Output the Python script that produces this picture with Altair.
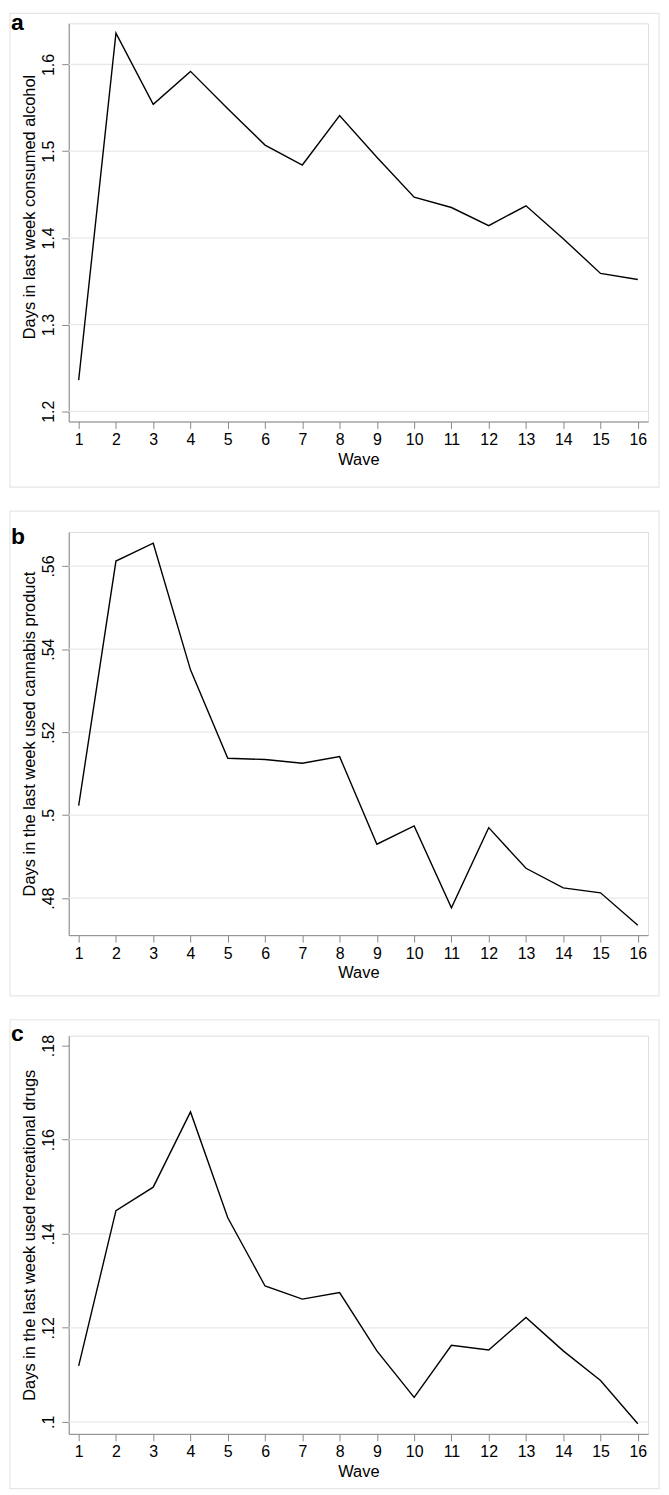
import altair as alt
import pandas as pd

waves = list(range(1, 17))
alcohol = [1.236, 1.636, 1.554, 1.592, 1.549, 1.507, 1.484, 1.541, 1.493, 1.447,
           1.435, 1.414, 1.437, 1.399, 1.359, 1.352]
cannabis = [0.5023, 0.5612, 0.5655, 0.5350, 0.5137, 0.5134, 0.5125, 0.5141, 0.4930,
            0.4974, 0.4777, 0.4970, 0.4872, 0.4825, 0.4813, 0.4735]
drugs = [0.1119, 0.1449, 0.1499, 0.1659, 0.1434, 0.1289, 0.1261, 0.1275, 0.1151,
         0.1052, 0.1163, 0.1153, 0.1222, 0.1151, 0.1088, 0.0996]

ticks_a = [1.2, 1.3, 1.4, 1.5, 1.6]
ticks_b = [0.48, 0.50, 0.52, 0.54, 0.56]
ticks_c = [0.10, 0.12, 0.14, 0.16, 0.18]
grid_a = [1.2, 1.3, 1.4, 1.5, 1.6]
grid_b = [0.48, 0.50, 0.52, 0.54, 0.56]
grid_c = [0.10, 0.12, 0.14, 0.16]

titles = ["Days in last week consumed alcohol",
          "Days in the last week used cannabis product",
          "Days in the last week used recreational drugs"]
letters = ["a", "b", "c"]

FONT = "Liberation Sans"
W = 582
XDOM = [0.733, 16.275]


def panel(values, domain, ticks, grid, title, label_expr, H, letter, letter_y,
          frame_top, frame_bottom, title_y=None):
    df = pd.DataFrame({"wave": waves, "value": values})
    yscale = alt.Scale(domain=domain, nice=False, zero=False)
    xscale = alt.Scale(domain=XDOM, nice=False, zero=False)
    axis_kw = dict(values=ticks, title=title, labelExpr=label_expr, grid=False,
                   labelAngle=270, labelAlign="center", labelBaseline="bottom",
                   labelPadding=5, tickSize=7, titleFontSize=16.5, labelFontSize=16,
                   titleFontWeight="normal", titlePadding=3, titleAngle=270,
                   titleBaseline="bottom")
    if title_y is not None:
        axis_kw["titleY"] = title_y
    yax = alt.Axis(**axis_kw)
    xax = alt.Axis(values=waves, title="Wave", format="d", grid=False, tickSize=7,
                   labelPadding=3, labelFontSize=16, titleFontSize=16.5,
                   titleFontWeight="normal", titlePadding=4, labelAngle=0)

    frame = alt.Chart(pd.DataFrame({"k": [0]})).mark_rect(
        filled=False, stroke="#e6e6e6", strokeWidth=1.2
    ).encode(x=alt.value(-59), x2=alt.value(W + 11),
             y=alt.value(-frame_top), y2=alt.value(H + frame_bottom))

    line = alt.Chart(df).mark_line(color="black", strokeWidth=1.4).encode(
        x=alt.X("wave:Q", scale=xscale, axis=xax),
        y=alt.Y("value:Q", scale=yscale, axis=yax),
    )

    gridl = alt.Chart(pd.DataFrame({"value": grid})).mark_rule(
        color="#e8e8e8", strokeWidth=1.3
    ).encode(y=alt.Y("value:Q", scale=yscale, axis=yax),
             x=alt.value(0), x2=alt.value(W))

    lab = alt.Chart(pd.DataFrame({"k": [0]})).mark_text(
        text=letter, fontSize=23, fontWeight="bold", align="left",
        baseline="alphabetic", font=FONT, color="black"
    ).encode(x=alt.value(-58), y=alt.value(letter_y))

    return alt.layer(frame, gridl, line, lab).properties(width=W, height=H)


pa = panel(alcohol, [1.1882, 1.6474], ticks_a, grid_a, titles[0],
           "format(datum.value, '.1f')", 400, letters[0], 7, 10, 66, title_y=184)
pb = panel(cannabis, [0.4711, 0.5682], ticks_b, grid_b, titles[1],
           "substring(format(datum.value, '.2~f'), 1)", 405, letters[1], 12, 21, 61)
pc = panel(drugs, [0.09746, 0.1821], ticks_c, grid_c, titles[2],
           "substring(format(datum.value, '.2~f'), 1)", 400, letters[2], 5, 16, 55)

chart = alt.vconcat(pa, pb, pc, spacing=20).properties(padding=0).configure_view(
    stroke="transparent"
).configure_axis(
    domainColor="#1a1a1a", domainWidth=1.2, tickColor="#1a1a1a", tickWidth=1.2,
    labelColor="#000000", titleColor="#000000", labelFont=FONT, titleFont=FONT
).configure(font=FONT)

chart.save("out.html", embed_options={"renderer": "svg", "actions": False})
